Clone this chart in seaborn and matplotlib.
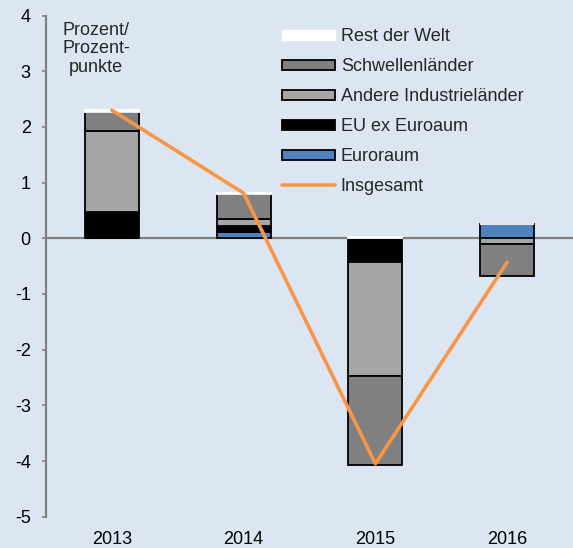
import matplotlib
matplotlib.use("Agg")
import matplotlib.pyplot as plt
import seaborn as sns
import numpy as np
from matplotlib.patches import Patch
from matplotlib.lines import Line2D

years = ["2013", "2014", "2015", "2016"]
euroraum = [0.0, 0.11, 0.0, 0.25]
eu_ex = [0.47, 0.11, -0.43, 0.0]
andere = [1.45, 0.12, -2.05, -0.10]
schwellen = [0.35, 0.45, -1.60, -0.57]
rest = [0.03, 0.03, 0.03, 0.0]
insgesamt = [2.3, 0.81, -4.05, -0.43]

sns.set_theme(style="white")
plt.rcParams['font.family'] = ['Liberation Sans', 'DejaVu Sans']

FS = 13
bg = "#DCE6F2"
fig = plt.figure(figsize=(5.73, 5.48), dpi=100, facecolor=bg)
ax = fig.add_axes([46/573, (548-516.7)/548, 1 - 46/573, (516.7-15.5)/548])
ax.set_facecolor(bg)

series = [
    ("Euroraum", euroraum, "#4F81BD", "black"),
    ("EU ex Euroaum", eu_ex, "black", "black"),
    ("Andere Industrieländer", andere, "#A6A6A6", "black"),
    ("Schwellenländer", schwellen, "#808080", "black"),
    ("Rest der Welt", rest, "white", "white"),
]
x = np.arange(len(years))
pos_bottom = np.zeros(len(years))
neg_bottom = np.zeros(len(years))
width = 0.41
for name, vals, fc, ec in series:
    vals = np.array(vals, dtype=float)
    bottoms = np.where(vals >= 0, pos_bottom, neg_bottom)
    ax.bar(x, vals, width=width, bottom=bottoms, color=fc, edgecolor=ec,
           linewidth=1.3, zorder=3)
    pos_bottom = pos_bottom + np.where(vals > 0, vals, 0)
    neg_bottom = neg_bottom + np.where(vals < 0, vals, 0)

ax.axhline(0, color="#808080", lw=1.6, zorder=2)
sns.lineplot(x=x, y=insgesamt, ax=ax, color="#F79646", lw=2.6, zorder=5,
             legend=False)

ax.set_xlim(-0.5, 3.5)
ax.set_ylim(-5, 4)
ax.set_yticks(range(-5, 5))
ax.set_yticklabels([str(v) for v in range(-5, 5)])
ax.set_xticks(x)
ax.set_xticklabels(years)
for s in ["top", "right", "bottom"]:
    ax.spines[s].set_visible(False)
ax.spines["left"].set_color("#808080")
ax.spines["left"].set_linewidth(1.6)
ax.tick_params(axis="y", length=3, width=1.2, color="#808080", pad=8,
               labelsize=FS, labelcolor="black", left=True)
ax.tick_params(axis="x", length=0, pad=10, labelsize=FS, labelcolor="black")

ax.text(-0.12, 3.88, "Prozent/\nProzent-\npunkte", ha="center", va="top",
        fontsize=FS, linespacing=1.1, zorder=6)

handles = [
    Patch(facecolor="white", edgecolor="white", label="Rest der Welt"),
    Patch(facecolor="#808080", edgecolor="black", lw=1.3, label="Schwellenländer"),
    Patch(facecolor="#A6A6A6", edgecolor="black", lw=1.3, label="Andere Industrieländer"),
    Patch(facecolor="black", edgecolor="black", lw=1.3, label="EU ex Euroaum"),
    Patch(facecolor="#4F81BD", edgecolor="black", lw=1.3, label="Euroraum"),
    Line2D([0], [0], color="#F79646", lw=2.6, label="Insgesamt"),
]
leg = ax.legend(handles=handles, loc="upper left", bbox_to_anchor=(0.424, 1.0),
                frameon=False, fontsize=FS, handlelength=2.95, handleheight=0.5,
                handletextpad=0.3, labelspacing=0.72, borderaxespad=0.3)

fig.savefig("out.png", dpi=100, facecolor=bg)
